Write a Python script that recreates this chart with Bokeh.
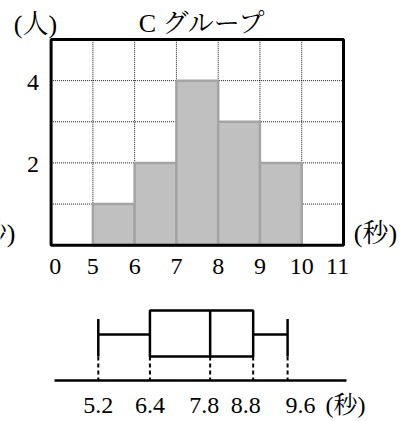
from bokeh.plotting import figure
from bokeh.models import Range1d
from bokeh.embed import file_html
from bokeh.resources import INLINE
from bokeh.core.properties import value

# ---- data ----
title_text = "C グループ"
y_unit = "(人)"
x_unit = "(秒)"
bin_left = [5, 6, 7, 8, 9]          # seconds
bin_right = [6, 7, 8, 9, 10]
counts = [1, 2, 4, 3, 2]            # people
x_tick_values = [0, 5, 6, 7, 8, 9, 10, 11]
x_tick_labels = ["0", "5", "6", "7", "8", "9", "10", "11"]
y_ticks = [2, 4]
y_max = 5

box_labels = ["min", "Q1", "median", "Q3", "max"]
box_values = [5.2, 6.4, 7.8, 8.8, 9.6]  # seconds
box_tick_labels = ["5.2", "6.4", "7.8", "8.8", "9.6"]

FONT = "Liberation Serif, Noto Serif CJK JP, Noto Sans CJK JP"
NUM_FS = "24px"
JP_FS = "26px"

# broken axis: column 0 is the 0..5 gap, then one column per second
def col(s):
    return 0 if s == 0 else s - 4

n_cols = col(x_tick_values[-1])           # 7 columns
# label positions: 0 and 11 sit a little inside the frame edges
lab_nudge = {0: 0.1, 11: -0.14}
x_label_pos = [col(s) + lab_nudge.get(s, 0) for s in x_tick_values]

# box-plot tick labels are spread a little apart, as in the print
box_lab_nudge = [0.0, 0.0, -0.14, -0.17, 0.3]
box_label_pos = [v + d for v, d in zip(box_values, box_lab_nudge)]

W, H = 403, 421
p = figure(width=W, height=H, min_border=0, x_axis_location=None, y_axis_location=None,
           title=None, toolbar_location=None, output_backend="svg",
           x_range=Range1d(-1.2114, 8.4367), y_range=Range1d(-4.2854, 5.948))
p.outline_line_color = None
p.grid.visible = False
p.background_fill_color = "white"
p.border_fill_color = "white"

# second coordinate system for the box plot
p.extra_x_ranges = {"box": Range1d(2.9266, 12.2943)}
p.extra_y_ranges = {"box": Range1d(-41, 380)}

# ---- histogram ----
gx = list(range(1, n_cols))
gy = list(range(1, y_max))
p.segment(x0=gx, y0=[0] * len(gx), x1=gx, y1=[y_max] * len(gx),
          line_color="black", line_width=1, line_dash="1 1", line_alpha=0.9)
p.segment(x0=[0] * len(gy), y0=gy, x1=[n_cols] * len(gy), y1=gy,
          line_color="black", line_width=1, line_dash="1 1", line_alpha=0.9)

p.quad(left=[col(v) for v in bin_left], right=[col(v) for v in bin_right],
       bottom=0, top=counts, fill_color="#c0c0c0", line_color="#a4a4a4", line_width=2.5)

p.quad(left=[0], right=[n_cols], bottom=[0], top=[y_max], fill_color=None,
       line_color="black", line_width=3)

p.text(x=x_label_pos, y=[-0.52] * len(x_label_pos), text=x_tick_labels,
       text_font=value(FONT), text_font_size=value(NUM_FS), text_color="black",
       text_align="center", text_baseline="middle")
p.text(x=[-0.29] * len(y_ticks), y=[t - 0.05 for t in y_ticks], text=[str(t) for t in y_ticks],
       text_font=value(FONT), text_font_size=value(NUM_FS), text_color="black",
       text_align="right", text_baseline="middle")

p.text(x=[-0.373], y=[5.365], text=[y_unit], text_font=value(FONT), text_font_size=value(JP_FS),
       text_color="black", text_align="center", text_baseline="middle")
p.text(x=[3.627], y=[5.389], text=[title_text], text_font=value(FONT), text_font_size=value(JP_FS),
       text_color="black", text_align="center", text_baseline="middle")
p.text(x=[7.766, -0.852], y=[0.284, 0.284], text=[x_unit, x_unit], text_font=value(FONT),
       text_font_size=value(JP_FS), text_color="black", text_align=["center", "right"],
       text_baseline="middle")

# ---- box plot ----
vmin, q1, med, q3, vmax = box_values
BOX_B, BOX_T, WH_Y, CAP_T = 24, 70, 46, 61.5
kw = dict(x_range_name="box", y_range_name="box")
p.segment(x0=[4.182], y0=[0], x1=[10.969], y1=[0], line_color="black", line_width=2.5, **kw)
p.quad(left=[q1], right=[q3], bottom=[BOX_B], top=[BOX_T], fill_color=None,
       line_color="black", line_width=2.5, **kw)
p.segment(x0=[med], y0=[BOX_B], x1=[med], y1=[BOX_T], line_color="black", line_width=2.5, **kw)
p.segment(x0=[vmin, q3], y0=[WH_Y, WH_Y], x1=[q1, vmax], y1=[WH_Y, WH_Y],
          line_color="black", line_width=2.5, **kw)
p.segment(x0=[vmin, vmax], y0=[CAP_T, CAP_T], x1=[vmin, vmax], y1=[BOX_B, BOX_B],
          line_color="black", line_width=2.5, **kw)
p.segment(x0=box_values, y0=[BOX_B] * 5, x1=box_values, y1=[0] * 5,
          line_color="black", line_width=2, line_dash="4 3", **kw)
p.text(x=box_label_pos, y=[-25] * 5, text=box_tick_labels, text_font=value(FONT),
       text_font_size=value(NUM_FS), text_color="black", text_align="center",
       text_baseline="middle", **kw)
p.text(x=[10.946], y=[-24], text=[x_unit], text_font=value(FONT), text_font_size=value("24px"),
       text_color="black", text_align="center", text_baseline="middle", **kw)

open("out.html", "w").write(file_html(p, INLINE))
